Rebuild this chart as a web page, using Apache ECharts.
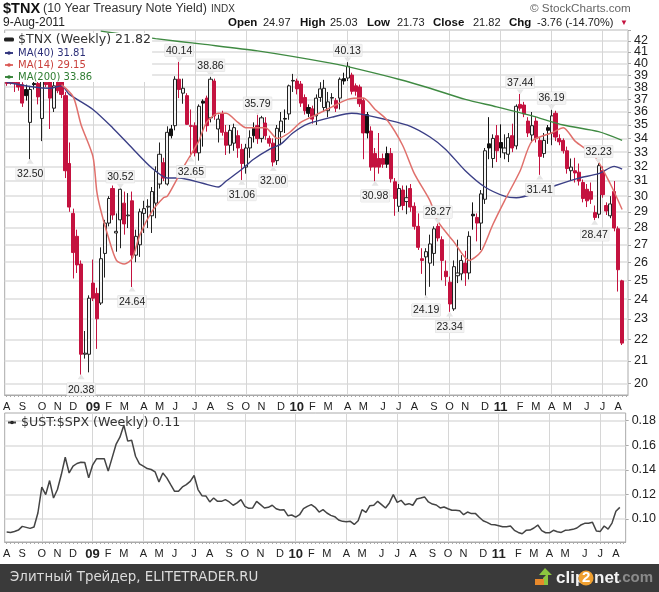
<!DOCTYPE html>
<html>
<head>
<meta charset="utf-8">
<style>
html, body { margin: 0; padding: 0; background: #fff; }
#chart { width: 659px; height: 592px; }
</style>
<script src="https://cdn.jsdelivr.net/npm/echarts@6/dist/echarts.min.js"></script>
</head>
<body>
<div id="chart"></div>
<script>
// weekly candles, one row a week from Aug 2008: open, close, low, high
var tnxWeeks = [
[38.4,38.3,38.1,38.5],[38.4,38.3,38.2,38.5],[38.4,38.3,37.6,38.5],[38.4,38.0,37.7,38.5],[38.2,36.7,36.4,38.4],
[37.8,37.3,36.9,38.2],[35.2,37.8,32.5,38.1],[38.3,38.2,37.8,38.6],[38.3,37.2,36.6,38.5],[35.5,38.6,33.8,38.8],
[38.4,38.2,38.0,38.6],[38.6,37.1,34.7,38.8],[36.3,38.1,36.0,38.7],[38.6,37.7,37.5,38.8],[38.6,37.4,37.1,38.8],
[37.3,31.7,31.2,37.6],[32.2,29.3,29.0,33.7],[28.9,26.55,25.1,29.2],[27.5,25.85,25.4,27.9],[25.9,21.3,20.38,26.1],
[21.3,21.35,21.1,22.4],[21.3,24.05,20.48,24.2],[24.85,24.05,23.9,26.15],[24.3,23.0,21.55,24.6],[23.8,26.2,23.7,26.85],
[26.5,28.3,25.15,28.5],[28.3,29.85,28.1,30.0],[30.5,28.8,28.5,30.7],[27.7,27.8,26.6,28.9],[28.5,30.45,26.8,30.52],
[29.55,28.25,27.6,30.3],[28.75,28.8,28.0,30.2],[29.7,26.4,24.64,30.3],[26.4,27.5,26.0,27.9],[27.0,29.0,26.3,29.2],
[28.9,29.2,27.7,29.7],[29.3,29.35,28.0,29.8],[28.75,30.3,27.7,30.6],[29.55,31.65,28.6,32.0],[30.8,32.85,30.5,33.7],
[32.25,31.2,31.0,32.6],[30.8,34.45,30.7,34.9],[34.7,34.2,34.0,35.0],[34.95,38.65,34.6,38.9],[38.65,37.8,37.1,40.14],
[37.5,37.9,36.65,38.7],[37.3,35.05,35.0,37.5],[34.95,34.9,32.65,36.2],[34.95,32.95,32.7,35.2],[32.95,36.45,32.4,36.6],
[36.85,36.7,33.4,37.0],[37.1,34.95,34.5,37.3],[35.55,38.65,35.2,38.86],[38.5,35.7,35.4,38.7],[34.7,35.45,33.7,35.8],
[35.85,34.45,34.2,36.1],[34.45,33.5,32.8,35.0],[33.5,34.6,32.9,35.0],[33.65,34.8,33.1,35.1],[34.2,33.3,32.6,34.6],
[33.2,32.2,31.06,33.6],[31.95,33.3,31.5,33.6],[33.3,34.05,32.6,34.6],[34.75,34.2,33.7,35.2],[34.95,34.0,33.6,35.79],
[34.0,35.55,33.7,35.7],[35.15,34.2,33.9,35.6],[34.0,33.65,33.4,34.2],[33.65,32.3,32.0,34.0],[32.4,34.75,32.1,35.0],
[34.5,35.3,33.5,36.0],[35.5,35.45,34.4,36.2],[35.85,38.1,35.4,38.2],[38.5,38.55,37.6,39.1],[38.5,37.85,37.4,38.7],
[38.25,36.7,36.4,38.5],[37.15,36.1,35.8,37.4],[36.35,35.9,35.6,36.6],[36.25,35.45,35.1,36.5],[35.7,37.1,35.0,37.4],
[37.15,37.85,36.8,38.4],[36.35,37.9,36.0,38.6],[36.1,36.8,35.6,37.6],[37.1,37.15,36.6,37.5],[36.9,36.3,36.0,37.1],
[37.1,38.65,36.2,38.8],[38.7,38.5,38.2,39.2],[38.75,39.75,38.5,40.13],[39.0,37.65,37.4,39.2],[38.1,37.65,37.3,38.3],
[38.0,36.65,36.4,38.2],[36.9,34.4,32.5,37.1],[35.8,34.4,34.0,36.0],[34.55,31.95,31.7,34.9],[32.9,31.95,30.98,33.3],
[32.55,31.95,31.5,34.4],[32.55,32.15,31.9,32.9],[32.9,32.15,31.9,33.4],[32.9,31.15,30.9,33.3],[30.95,29.85,28.75,31.2],
[29.35,30.5,29.0,30.8],[30.4,29.4,29.1,30.7],[29.65,29.9,28.85,30.7],[30.5,29.3,29.0,30.8],[29.35,28.1,27.9,29.6],
[28.1,26.85,26.7,28.9],[26.2,26.1,25.35,26.8],[26.3,26.6,24.19,26.8],[25.95,27.05,24.65,27.6],[26.5,27.95,25.8,28.1],
[28.1,27.4,27.2,28.27],[27.3,26.1,25.0,27.5],[25.5,25.2,24.7,26.1],[24.9,23.75,23.34,25.2],[23.5,25.75,23.4,26.1],
[25.25,25.4,24.85,27.3],[25.35,26.1,25.0,26.4],[25.95,25.4,24.7,26.65],[25.4,27.5,25.05,27.8],[28.85,28.75,27.9,29.6],
[28.65,28.3,27.2,28.9],[28.3,30.15,26.7,30.4],[29.8,33.1,29.5,33.3],[33.6,33.3,32.5,35.6],[32.55,34.0,31.9,34.3],
[34.2,33.1,32.3,35.0],[33.7,33.3,32.6,35.05],[32.95,33.3,32.5,34.3],[32.85,34.05,32.3,34.4],[34.2,33.3,33.0,35.1],
[33.45,36.45,33.2,36.6],[36.6,36.3,36.1,37.44],[36.55,35.85,35.6,36.8],[35.3,34.4,34.1,35.6],[34.25,34.95,33.7,36.0],
[35.3,34.0,33.7,35.6],[33.85,32.7,31.41,34.1],[32.9,33.85,32.6,34.4],[34.8,34.6,33.6,35.0],[34.4,35.7,33.5,36.19],
[35.9,34.1,33.8,36.1],[34.0,33.75,33.5,34.3],[33.85,33.1,32.9,34.0],[33.1,31.85,31.5,33.4],[31.7,31.95,31.0,32.55],
[31.7,31.55,30.9,32.6],[31.6,31.0,30.7,32.2],[30.9,29.85,29.6,31.1],[30.45,29.7,29.3,30.8],[30.3,29.8,29.5,30.9],
[28.95,28.65,28.47,29.4],[28.85,32.05,28.6,32.23],[31.7,30.1,29.9,32.0],[29.4,29.05,28.8,29.6],[28.75,29.5,28.6,30.0],
[30.3,28.0,27.8,31.0],[27.95,25.58,24.4,28.1],[24.97,21.82,21.73,25.03]
];
// filled black bodies instead of filled red
var blackBodies = [5,7,20,42,50,63,71,77,86,92,97,119,123,126,138];

// moving averages as [week, value]
var ma40 = [[0,38.4],[7,38],[11,37.9],[14,38.1],[16,37.4],[22,36.2],[27,34.8],[32,33.3],[37,31.9],[41,31.2],[44,31.2],[50,30.85],[54,30.6],[56,31],[60,31.8],[63,32.5],[67,33.2],[70,33.6],[73,34.4],[77,35.1],[83,35.6],[88,35.9],[91,35.8],[97,35.4],[103,34.9],[108,34.1],[112,33.2],[117,31.7],[122,30.6],[127,30],[130,29.9],[135,30.2],[140,30.7],[146,31.2],[151,31.5],[155,32],[157,31.81]];
var ma14 = [[14,38.2],[17,37.2],[19,35],[22,32.7],[23,30.3],[24,29.1],[26,27.4],[28,26.1],[30,25.9],[32,26.2],[34,27.6],[37,29],[40,29.9],[41,30],[45,31.9],[49,33.8],[51,35.2],[54,35.9],[56,35.9],[59,35.2],[61,34.8],[66,34.8],[69,34],[72,34.4],[75,35.2],[79,35.8],[83,36.4],[87,37],[91,37.1],[94,36.2],[97,35.4],[101,33.5],[104,31.5],[108,29.7],[110,28.4],[114,27.2],[118,26.1],[121,26.6],[124,28.2],[127,29.7],[131,31.7],[134,33.8],[139,34.4],[142,34.8],[145,33.8],[150,32.7],[154,30.8],[157,29.15]];
var ma200 = [[24,42.9],[38,42.2],[50,41.7],[64,41.1],[83,40],[91,39.4],[100,38.65],[108,37.9],[117,37],[125,36.4],[134,35.7],[142,35],[151,34.5],[157,33.86]];

// $UST:$SPX close
var ustSpx = [.0894,.0891,.0899,.091,.094,.0932,.0924,.0935,.1049,.126,.1199,.1313,.1171,.124,.1362,.1503,.1375,.143,.1452,.1462,
.146,.1335,.1438,.149,.149,.149,.139,.1498,.1607,.1666,.1764,.1634,.1642,.1511,.1449,.143,.1411,.1403,.1384,.1302,
.1375,.1335,.128,.1226,.1226,.1261,.128,.1307,.1354,.124,.119,.1188,.1139,.1171,.1144,.1144,.1158,.1139,.1112,.1131,
.1158,.1103,.1087,.109,.1144,.1117,.109,.1095,.1112,.1084,.1073,.1076,.1027,.1033,.1016,.1035,.1084,.1103,.1117,.1095,
.1057,.1076,.1049,.103,.1019,.0992,.0981,.0978,.0981,.0956,.0986,.1076,.1054,.1109,.1112,.1144,.1117,.109,.1131,.1199,
.1136,.1152,.1117,.1125,.1112,.1163,.1171,.118,.1139,.1122,.1114,.109,.1098,.1084,.1071,.1071,.1068,.1035,.1057,.1044,
.1046,.1014,.0986,.0973,.0956,.0954,.0946,.0937,.0937,.0943,.0908,.0891,.088,.0908,.091,.0927,.0951,.0905,.0888,.0888,
.0908,.0897,.0891,.0908,.091,.0916,.0927,.0951,.0965,.0965,.0973,.0902,.0899,.0943,.0918,.0967,.1063,.1095];

var monthWeeks = [0,4,9,13,17,22,26,30,35,39,43,48,52,57,61,65,70,74,78,82,87,91,96,100,104,109,113,117,122,126,131,135,139,143,148,152,156];
var monthNames = ['A','S','O','N','D','09','F','M','A','M','J','J','A','S','O','N','D','10','F','M','A','M','J','J','A','S','O','N','D','11','F','M','A','M','J','J','A'];
var quarterWeeks = [9,22,35,48,61,74,87,100,113,126,139,152];

// 43 sits on the frame and stays unlabelled
var priceTicks = [20,21,22,23,24,25,26,27,28,29,30,31,32,33,34,35,36,37,38,39,40,41,42,43];
var ratioTicks = [0.10,0.12,0.14,0.16,0.18];

// marked highs and lows
var highMarks = [[29,30.52],[44,40.14],[52,38.86],[64,35.79],[87,40.13],[110,28.27],[131,37.44],[139,36.19],[151,32.23]];
var lowMarks = [[6,32.50],[19,20.38],[32,24.64],[47,32.65],[60,31.06],[68,32.00],[94,30.98],[107,24.19],[113,23.34],[136,31.41],[150,28.47]];

var nameTnx = '$TNX (Weekly) 21.82', name40 = 'MA(40) 31.81', name14 = 'MA(14) 29.15', name200 = 'MA(200) 33.86', nameUst = '$UST:$SPX (Weekly) 0.11';

var RED = '#c4123f', SANS = '"Liberation Sans", Arial, sans-serif';

var weekSlots = [];
for (var i = 0; i < 159; i++) {
    weekSlots.push('');
}
monthWeeks.forEach(function (w, k) { weekSlots[w] = monthNames[k]; });

var candleData = tnxWeeks.map(function (row, k) {
    if (blackBodies.indexOf(k) >= 0) {
        return {value: row, itemStyle: {color0: '#111', borderColor0: '#111'}};
    }
    return row;
});

function timeAxis(gridIndex) {
    return {
        type: 'category',
        gridIndex: gridIndex,
        data: weekSlots,
        boundaryGap: true,
        axisLine: {show: true, lineStyle: {color: '#aaa'}},
        axisTick: {show: true, length: 2, interval: 0, alignWithLabel: true, lineStyle: {color: '#aaa'}},
        axisLabel: {
            show: true,
            interval: 0,
            hideOverlap: false,
            margin: 6,
            fontFamily: SANS,
            fontSize: 11,
            color: '#222',
            formatter: function (v) {
                return /\d/.test(v) ? '{y|' + v + '}' : v;
            },
            rich: {y: {fontFamily: SANS, fontSize: 13, fontWeight: 'bold', color: '#222'}}
        },
        splitLine: {
            show: true,
            alignWithLabel: true,
            interval: function (k) { return quarterWeeks.indexOf(k) >= 0; },
            lineStyle: {color: '#d6d6d6', width: 1}
        }
    };
}

function valueAxis(gridIndex, type, min, max, ticks, fmt) {
    return {
        type: type,
        gridIndex: gridIndex,
        position: 'right',
        min: min,
        max: max,
        axisLine: {show: false},
        axisTick: {show: true, length: 3, customValues: ticks, lineStyle: {color: '#aaa'}},
        axisLabel: {show: true, customValues: ticks, hideOverlap: false, lineHeight: 9, margin: 6, fontFamily: SANS, fontSize: 12.5, color: '#222', formatter: fmt},
        splitLine: {show: true, lineStyle: {color: '#dedede', width: 1.5}},
        minorTick: {show: false},
        minorSplitLine: {show: false}
    };
}

function maLine(name, data, color, width) {
    return {
        name: name,
        type: 'line',
        xAxisIndex: 0,
        yAxisIndex: 0,
        data: data,
        showSymbol: false,
        smooth: 0.25,
        lineStyle: {color: color, width: width},
        itemStyle: {color: color},
        silent: true
    };
}

function markSeries(data, pos, rotate, offsetY, dist) {
    return {
        type: 'scatter',
        xAxisIndex: 0,
        yAxisIndex: 0,
        data: data,
        symbol: 'triangle',
        symbolSize: [7, 5],
        symbolRotate: rotate,
        symbolOffset: [0, offsetY],
        itemStyle: {color: '#e6e6e6', opacity: 1},
        silent: true,
        z: 6,
        label: {
            show: true,
            position: pos,
            distance: dist,
            fontFamily: SANS,
            fontSize: 10.5,
            color: '#222',
            backgroundColor: '#f3f3f3',
            borderColor: '#ddd',
            borderWidth: 0.5,
            padding: [1, 1, 0, 1],
            formatter: function (p) { return p.value[1].toFixed(2); }
        }
    };
}

function textAt(x, y, text, font, color) {
    return {
        type: 'text',
        x: x,
        y: y,
        z: 10,
        style: {text: text, font: font, fill: color || '#222', textVerticalAlign: 'middle'}
    };
}

var myChart = echarts.init(document.getElementById('chart'));
myChart.setOption({
    backgroundColor: '#fff',
    animation: false,
    legend: [
        {
            left: 3, top: 33, orient: 'vertical', itemGap: 2, itemWidth: 8, itemHeight: 2, padding: [0, 1, 0, 1],
            selectedMode: false,
            backgroundColor: '#fff',
            textStyle: {fontFamily: '"DejaVu Sans", sans-serif', fontSize: 10},
            data: [
                {name: nameTnx, itemStyle: {color: '#111'}, textStyle: {color: '#333', fontSize: 12.6}},
                {name: name40, itemStyle: {color: '#2c2f78'}, textStyle: {color: '#2c2f78'}},
                {name: name14, itemStyle: {color: '#d9534f'}, textStyle: {color: '#c9403c'}},
                {name: name200, itemStyle: {color: '#2f7d32'}, textStyle: {color: '#2f7d32'}}
            ]
        },
        {
            left: 6, top: 416, itemWidth: 8, itemHeight: 2, padding: [0, 1, 0, 1],
            selectedMode: false,
            textStyle: {fontFamily: '"DejaVu Sans", sans-serif', fontSize: 12.6, color: '#333'},
            data: [{name: nameUst, itemStyle: {color: '#222'}}]
        }
    ],
    grid: [
        {left: 3, right: 31, top: 30, height: 365, show: true, borderColor: '#aaa', borderWidth: 1},
        {left: 3, right: 31, top: 413, height: 129, show: true, borderColor: '#aaa', borderWidth: 1}
    ],
    xAxis: [timeAxis(0), timeAxis(1)],
    yAxis: [
        valueAxis(0, 'log', 19.5, 43, priceTicks, function (v) { return v > 42.5 ? '' : Math.round(v); }),
        valueAxis(1, 'value', 0.0813, 0.1863, ratioTicks, function (v) { return v.toFixed(2); })
    ],
    series: [
        {
            name: nameTnx,
            type: 'candlestick',
            xAxisIndex: 0,
            yAxisIndex: 0,
            data: candleData,
            barWidth: 3.6,
            silent: true,
            itemStyle: {color: '#f4f4f4', color0: RED, borderColor: '#222', borderColor0: RED, borderWidth: 1}
        },
        maLine(name40, ma40, '#3b3f86', 1.4),
        maLine(name14, ma14, '#e0706c', 1.5),
        maLine(name200, ma200, '#3f8a42', 1.4),
        markSeries(highMarks, 'top', 180, -2, 1),
        markSeries(lowMarks, 'bottom', 0, 2, 4),
        {
            name: nameUst,
            type: 'line',
            xAxisIndex: 1,
            yAxisIndex: 1,
            data: ustSpx,
            showSymbol: false,
            silent: true,
            lineStyle: {color: '#444', width: 1.5},
            itemStyle: {color: '#222'}
        }
    ],
    graphic: [
        textAt(3, 9, '$TNX', 'bold 14.5px ' + SANS, '#111'),
        textAt(43, 9, '(10 Year Treasury Note Yield)', '12.5px ' + SANS, '#333'),
        textAt(211, 9, 'INDX', '10px ' + SANS, '#333'),
        textAt(3, 23, '9-Aug-2011', '12px ' + SANS, '#222'),
        textAt(228, 23, 'Open', 'bold 11.5px ' + SANS, '#111'),
        textAt(263, 23, '24.97', '11px ' + SANS, '#222'),
        textAt(300, 23, 'High', 'bold 11.5px ' + SANS, '#111'),
        textAt(330, 23, '25.03', '11px ' + SANS, '#222'),
        textAt(367, 23, 'Low', 'bold 11.5px ' + SANS, '#111'),
        textAt(397, 23, '21.73', '11px ' + SANS, '#222'),
        textAt(433, 23, 'Close', 'bold 11.5px ' + SANS, '#111'),
        textAt(473, 23, '21.82', '11px ' + SANS, '#222'),
        textAt(509, 23, 'Chg', 'bold 11.5px ' + SANS, '#111'),
        textAt(537, 23, '-3.76 (-14.70%)', '11px ' + SANS, '#222'),
        textAt(620, 23, '\u25BC', '8px ' + SANS, RED),
        textAt(530, 9, '\u00A9 StockCharts.com', '11.7px ' + SANS, '#666'),
        {type: 'rect', z: 9, shape: {x: 0, y: 564, width: 659, height: 28}, style: {fill: '#3a3a3a'}},
        textAt(10, 578, '\u042D\u043B\u0438\u0442\u043D\u044B\u0439 \u0422\u0440\u0435\u0439\u0434\u0435\u0440, ELITETRADER.RU', '13.4px "DejaVu Sans", sans-serif', '#dcdcdc'),
        {type: 'polygon', z: 10, shape: {points: [[539, 575], [545, 568], [552, 575], [548, 575], [548, 585], [543, 585], [543, 578], [546, 575]]}, style: {fill: '#8cc63f'}},
        {type: 'rect', z: 10, shape: {x: 535, y: 579, width: 9, height: 6}, style: {fill: '#e8892b'}},
        textAt(556, 578, 'clip', 'bold 17px ' + SANS, '#f2f2f2'),
        {type: 'circle', z: 10, shape: {cx: 586, cy: 578, r: 7.5}, style: {fill: '#f0a030'}},
        textAt(582, 578, '2', 'bold 15px ' + SANS, '#fff'),
        textAt(594, 578, 'net', 'bold 17px ' + SANS, '#f2f2f2'),
        textAt(618, 578, '.com', 'bold 15px ' + SANS, '#8a8a8a')
    ]
});
</script>
</body>
</html>
